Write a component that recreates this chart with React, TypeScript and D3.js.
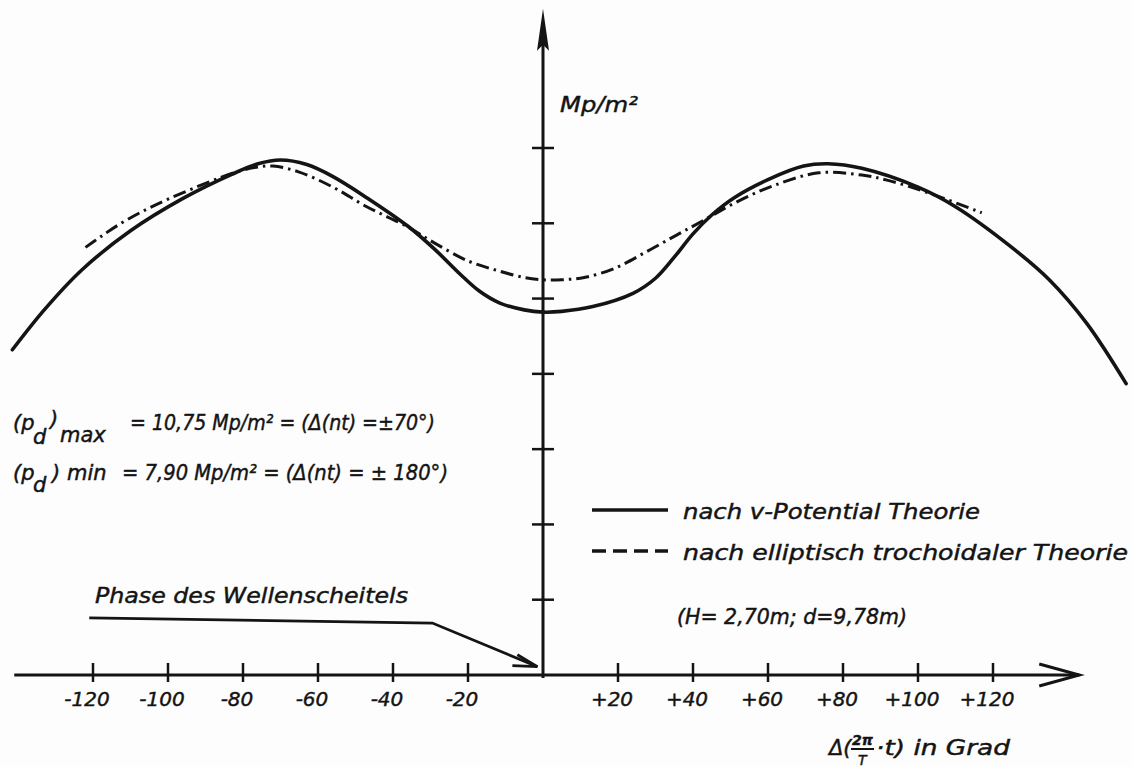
import React from "react";
import * as d3 from "d3";

// x in degrees (phase), y in axis divisions (the drawing has unlabelled ticks)
const xTicks = [-120, -100, -80, -60, -40, -20, 20, 40, 60, 80, 100, 120];
const xTickLabels = ["-120", "-100", "-80", "-60", "-40", "-20", "+20", "+40", "+60", "+80", "+100", "+120"];
const yTicks = [1, 2, 3, 4, 5, 6, 7];

// nach v-Potential Theorie (solid)
const potDeg = [-141.5, -133, -123, -110, -96, -83, -76, -70, -63, -56, -47, -36, -29, -22, -17, -11.5, -5, 0,
  5, 13, 24, 30, 35, 40, 45, 51, 60, 69.5, 76, 85, 100, 110, 125, 135, 145, 155.5];
const potVal = [4.32, 4.85, 5.38, 5.90, 6.33, 6.65, 6.79, 6.84, 6.78, 6.62, 6.34, 5.96, 5.66, 5.32, 5.10, 4.94, 4.85, 4.82,
  4.83, 4.89, 5.07, 5.27, 5.55, 5.86, 6.11, 6.34, 6.58, 6.76, 6.79, 6.73, 6.48, 6.22, 5.68, 5.25, 4.67, 3.87];

// nach elliptisch trochoidaler Theorie (dash-dot)
const trochDeg = [-122, -118, -113.5, -107.5, -100, -89.5, -82.5, -77, -72, -65, -56, -47, -36, -29, -20, -12, -5, 0,
  5, 11, 19, 27.5, 35.5, 42.5, 51.5, 61.5, 73.5, 85, 92, 103, 117];
const trochVal = [5.68, 5.82, 5.97, 6.14, 6.32, 6.54, 6.67, 6.74, 6.76, 6.68, 6.48, 6.22, 5.95, 5.74, 5.50, 5.37, 5.28, 5.25,
  5.25, 5.28, 5.40, 5.62, 5.84, 6.03, 6.28, 6.50, 6.67, 6.64, 6.57, 6.40, 6.14];

// leader line of "Phase des Wellenscheitels" (deg, divisions)
const leaderDeg = [-121, -29.5, -1.5];
const leaderVal = [0.76, 0.69, 0.11];

const W = 1132;
const H = 767;
const INK = "#141414";
const FONT = "'DejaVu Sans', 'Open Sans', sans-serif";

export default function App() {
  const x = d3.scaleLinear().domain([-120, 0, 120]).range([93, 543, 993]);
  const y = d3.scaleLinear().domain([0, 7]).range([675, 148]);

  const line = d3
    .line<[number, number]>()
    .x(d => x(d[0]))
    .y(d => y(d[1]))
    .curve(d3.curveCatmullRom.alpha(0.5));

  const potPts = potDeg.map((d, i) => [d, potVal[i]] as [number, number]);
  const trochPts = trochDeg.map((d, i) => [d, trochVal[i]] as [number, number]);
  const leader = d3.line<[number, number]>().x(d => x(d[0])).y(d => y(d[1]))(
    leaderDeg.map((d, i) => [d, leaderVal[i]] as [number, number])
  );

  const x0 = x(0);
  const y0 = y(0);
  const xEnd = x(143);
  const yTop = y(8.85);
  const tip = [x(leaderDeg[2]), y(leaderVal[2])];

  const txt = { fontFamily: FONT, fontStyle: "italic", fill: INK, stroke: INK, strokeWidth: 0.45 } as React.CSSProperties;

  return (
    <svg width={W} height={H} style={{ position: "absolute", left: 0, top: 0, background: "#fff" }}>
      <rect width={W} height={H} fill="#fdfdfd" />

      {/* x axis */}
      <line x1={x(-141)} y1={y0} x2={xEnd} y2={y0} stroke={INK} strokeWidth={3} />
      <path d={`M${xEnd - 40},${y0 - 11} L${xEnd},${y0} L${xEnd - 40},${y0 + 11}`} fill="none" stroke={INK} strokeWidth={3} />
      {xTicks.map((t, i) => (
        <g key={t}>
          <line x1={x(t)} x2={x(t)} y1={y0 - 12} y2={y0 + 7} stroke={INK} strokeWidth={2.5} />
          <text x={x(t) - 6} y={706} textAnchor="middle" fontSize={20} style={txt}>
            {xTickLabels[i]}
          </text>
        </g>
      ))}

      {/* y axis */}
      <line x1={x0} y1={y0 + 3} x2={x0} y2={yTop + 20} stroke={INK} strokeWidth={3} />
      <path d={`M${x0},${yTop} L${x0 + 6},${yTop + 42} L${x0},${yTop + 36} L${x0 - 6},${yTop + 42} Z`} fill={INK} />
      {yTicks.map(t => (
        <line key={t} x1={x0 - 11} x2={x0 + 11} y1={y(t)} y2={y(t)} stroke={INK} strokeWidth={2.5} />
      ))}
      <text x={560} y={112} fontSize={21} style={txt} textLength={78} lengthAdjust="spacingAndGlyphs">Mp/m²</text>

      {/* curves */}
      <path d={line(trochPts) || ""} fill="none" stroke={INK} strokeWidth={3} strokeDasharray="13,5,2.5,5" />
      <path d={line(potPts) || ""} fill="none" stroke={INK} strokeWidth={3.6} strokeLinecap="round" />

      {/* formulas */}
      <g fontSize={21} style={txt}>
        <text x={13} y={430}>(p</text>
        <text x={33} y={444}>d</text>
        <text x={50} y={426}>)</text>
        <text x={60} y={442}>max</text>
        <text x={130} y={430} textLength={305} lengthAdjust="spacingAndGlyphs">= 10,75  Mp/m² = (Δ(nt) =±70°)</text>

        <text x={13} y={480}>(p</text>
        <text x={33} y={492}>d</text>
        <text x={52} y={480}>)</text>
        <text x={67} y={480}>min</text>
        <text x={122} y={480} textLength={326} lengthAdjust="spacingAndGlyphs">= 7,90  Mp/m² = (Δ(nt) = ± 180°)</text>
      </g>

      {/* legend */}
      <line x1={592} x2={668} y1={510} y2={510} stroke={INK} strokeWidth={3.6} />
      <text x={683} y={519} fontSize={21} style={txt} textLength={297} lengthAdjust="spacingAndGlyphs">nach v-Potential Theorie</text>
      <line x1={592} x2={668} y1={551} y2={551} stroke={INK} strokeWidth={3.6} strokeDasharray="14,7" />
      <text x={683} y={560} fontSize={21} style={txt} textLength={445} lengthAdjust="spacingAndGlyphs">nach elliptisch trochoidaler Theorie</text>
      <text x={677} y={624} fontSize={21} style={txt} textLength={230} lengthAdjust="spacingAndGlyphs">(H= 2,70m; d=9,78m)</text>

      {/* wave crest annotation */}
      <text x={95} y={603} fontSize={21} style={txt} textLength={313} lengthAdjust="spacingAndGlyphs">Phase des Wellenscheitels</text>
      <path d={leader || ""} fill="none" stroke={INK} strokeWidth={2.8} />
      <path d={`M${tip[0] - 25},${tip[1] - 1} L${tip[0]},${tip[1]} L${tip[0] - 20},${tip[1] - 12}`} fill="none" stroke={INK} strokeWidth={2.8} />

      {/* x axis title */}
      <g style={txt}>
        <text x={829} y={755} fontSize={21}>Δ(</text>
        <text x={852} y={745} fontSize={14} fontWeight="bold">2π</text>
        <line x1={851} x2={874} y1={749} y2={749} stroke={INK} strokeWidth={2} />
        <text x={858} y={765} fontSize={14}>T</text>
        <text x={876} y={755} fontSize={21} textLength={134} lengthAdjust="spacingAndGlyphs">·t) in Grad</text>
      </g>
    </svg>
  );
}
